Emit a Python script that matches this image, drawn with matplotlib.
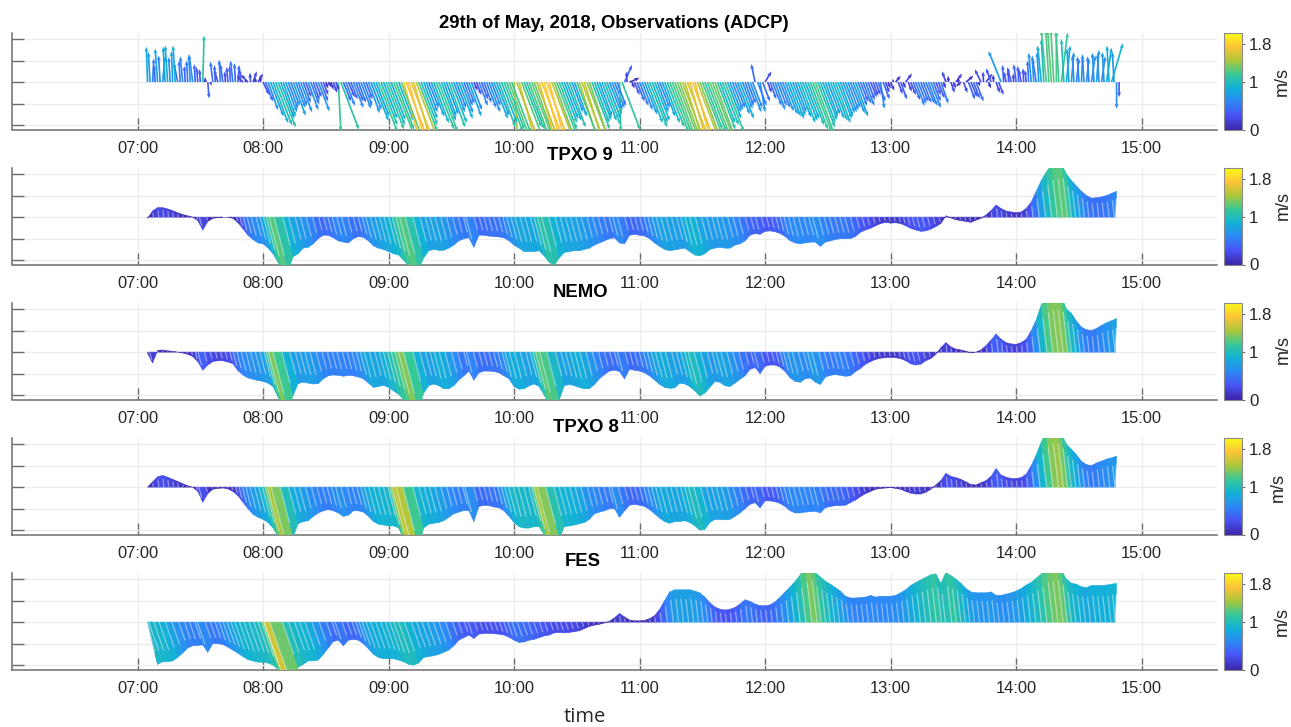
import numpy as np
import matplotlib
matplotlib.use("Agg")
import matplotlib.pyplot as plt
from matplotlib.collections import LineCollection, PolyCollection
from matplotlib.colors import LinearSegmentedColormap, Normalize
from matplotlib.cm import ScalarMappable

plt.rcParams['font.family'] = ['Liberation Sans', 'DejaVu Sans']

# Velocities in hundredths of m/s; ADCP leans in hundredths of an hour
adcp_v = [
 82,55,78,60,85,72,45,60,50,65,35,108,-38,48,30,42,35,50,40,15,18,25,20,
 -30,-65,-95,-105,-80,-62,-78,-55,-48,-65,-42,-68,-30,-12,-25,-115,-45,-35,-60,-48,-55,-72,-90,-115,-85,
 -100,-120,-90,-170,-175,-160,-115,-85,-60,-95,-115,-80,-105,-70,-85,-55,-80,-20,-55,-48,-70,-85,-105,-115,-125,
 -140,-160,-105,-120,-130,-170,-178,-172,-130,-110,-85,-105,-80,-145,-150,-130,-95,-80,-100,-75,-60,-115,40,10,-30,
 -55,-75,-105,-90,-60,-95,-115,-125,-135,-150,-165,-170,-135,-110,-125,-130,-95,-115,-70,-60,-85,-55,-70,42,-70,
 25,-40,-65,-60,-75,-85,-70,-95,-85,-110,-120,-95,-80,-85,-95,-80,-70,-60,-80,-45,-55,-35,-30,-62,-25,
 -20,15,-40,20,-30,-55,-45,-50,-60,-30,-50,25,-25,20,-10,15,-35,-45,30,20,32,-25,72,25,35,
 42,30,28,68,55,85,120,125,120,115,85,70,55,65,55,62,75,60,80,90,-62]
adcp_u = [
 -1,1,-2,2,-2,-1,-3,-2,-1,-3,-1,1,1,-2,-3,-2,-1,-2,1,-5,-6,3,4,
 5,8,12,14,10,8,10,7,6,8,5,9,4,3,3,2,6,5,8,6,7,9,12,15,11,
 13,16,12,16,17,16,15,11,8,12,15,10,13,9,11,7,10,3,7,6,9,11,13,15,16,
 3,15,14,15,16,16,17,16,16,14,11,13,10,16,16,15,12,10,13,10,8,1,6,8,4,
 7,10,14,12,8,12,15,16,17,16,16,16,17,14,16,16,12,15,9,8,11,7,9,-3,4,
 5,5,8,8,10,11,9,12,11,14,15,12,10,11,12,10,9,8,10,6,7,5,4,3,3,
 3,4,5,5,4,7,6,7,8,4,6,-3,3,5,-4,6,5,6,-5,5,-4,3,-10,-2,-3,
 -2,-2,-1,-2,-3,-3,-4,-3,0,5,3,2,2,1,2,3,2,3,4,9,0]
# ADCP ensembles between the ones above
adcp_mid_v = [
 70,40,62,82,58,85,50,38,62,42,30,12,-8,40,52,25,38,44,30,8,22,12,15,
 -45,-80,-100,-85,-70,-55,-60,-70,-35,-52,-35,-45,-15,-18,-20,-110,-55,-40,-45,-62,-40,-65,-80,-100,-110,
 -88,-110,-130,-172,-165,-150,-100,-70,-80,-110,-90,-75,-95,-60,-72,-50,-65,-30,-40,-60,-55,-78,-95,-110,-118,
 -150,-125,-110,-125,-150,-175,-176,-150,-118,-95,-90,-70,-120,-150,-140,-110,-88,-90,-85,-65,-55,-112,25,-15,-45,
 -65,-95,-95,-70,-80,-105,-118,-130,-145,-160,-168,-150,-120,-115,-128,-110,-100,-85,-65,-75,-62,-50,-60,-55,-45,
 -25,-55,-55,-68,-80,-78,-82,-90,-100,-115,-105,-88,-75,-90,-85,-72,-65,-72,-55,-50,-42,-32,-45,-40,-15,
 8,-28,-15,-22,-42,-50,-48,-55,-45,-38,-15,15,-15,12,-25,-40,-38,-10,25,-15,18,-30,40,28,20,
 38,32,50,62,70,100,122,122,118,100,78,62,60,58,60,68,66,70,85,70,-35]

tpxo9_v = [
 -3,14,22,22,19,15,10,6,3,0,-8,-30,-10,-3,-1,0,0,-3,-13,-27,-42,-52,-60,
 -62,-72,-85,-105,-125,-125,-92,-85,-72,-70,-62,-50,-42,-42,-48,-55,-58,-60,-50,-45,-47,-55,-67,-72,-75,
 -80,-85,-88,-100,-113,-125,-120,-95,-78,-75,-77,-77,-72,-65,-55,-50,-48,-70,-42,-42,-44,-45,-46,-48,-55,
 -65,-72,-80,-80,-80,-78,-90,-105,-112,-95,-82,-80,-78,-78,-75,-72,-65,-60,-55,-50,-48,-60,-62,-42,-40,
 -42,-44,-50,-60,-68,-75,-78,-76,-74,-72,-80,-88,-90,-85,-75,-72,-70,-72,-72,-65,-62,-55,-42,-38,-40,
 -33,-32,-34,-38,-45,-55,-60,-62,-60,-58,-58,-68,-58,-55,-52,-50,-50,-50,-45,-35,-30,-26,-20,-15,-12,
 -14,-13,-15,-20,-26,-30,-33,-32,-28,-22,-15,3,-2,-6,-8,-10,-12,-7,-3,5,15,28,20,14,12,
 10,12,20,35,60,85,105,120,125,125,100,85,72,60,50,44,45,47,50,55,60]
nemo_v = [
 -3,-25,4,5,3,2,0,-2,-5,-10,-22,-42,-30,-22,-20,-20,-23,-27,-43,-53,-60,-63,-66,
 -68,-72,-80,-105,-130,-135,-100,-73,-70,-72,-74,-73,-62,-55,-53,-54,-56,-54,-55,-58,-62,-72,-82,-80,-77,
 -82,-90,-98,-110,-120,-135,-135,-95,-78,-74,-78,-85,-85,-78,-65,-55,-44,-65,-48,-44,-44,-45,-48,-55,-62,
 -80,-86,-85,-78,-74,-80,-100,-120,-130,-110,-78,-75,-78,-82,-85,-85,-75,-62,-52,-44,-42,-45,-62,-40,-42,
 -44,-48,-55,-65,-75,-82,-84,-83,-72,-74,-80,-90,-102,-95,-82,-68,-70,-78,-80,-72,-63,-55,-40,-36,-50,
 -33,-30,-30,-35,-45,-60,-68,-70,-62,-60,-70,-75,-58,-54,-52,-54,-56,-55,-45,-38,-28,-22,-17,-14,-13,
 -12,-13,-15,-20,-27,-30,-28,-20,-15,-5,10,22,12,7,5,2,-2,0,5,15,28,42,30,22,19,
 18,22,30,50,75,110,130,135,135,130,100,90,72,58,52,50,55,62,68,73,78]
tpxo8_v = [
 0,12,24,27,23,18,13,8,3,0,-10,-35,-15,-5,-3,-2,-4,-10,-20,-35,-50,-63,-70,
 -75,-82,-95,-115,-140,-150,-115,-85,-80,-78,-68,-60,-55,-52,-55,-60,-68,-65,-55,-55,-58,-68,-80,-86,-88,
 -90,-90,-95,-120,-145,-155,-140,-95,-86,-84,-82,-78,-70,-62,-58,-54,-55,-80,-45,-42,-43,-46,-48,-55,-68,
 -82,-92,-95,-95,-92,-92,-110,-135,-150,-120,-92,-90,-88,-85,-82,-75,-62,-58,-55,-50,-50,-70,-55,-42,-40,
 -42,-45,-52,-62,-72,-80,-84,-80,-80,-78,-82,-90,-100,-98,-82,-75,-75,-76,-75,-68,-60,-50,-40,-36,-48,
 -32,-32,-34,-38,-45,-55,-60,-60,-58,-57,-56,-60,-48,-45,-43,-43,-42,-36,-30,-22,-15,-10,-5,-3,-2,
 -1,-3,-5,-10,-14,-16,-16,-12,-5,5,15,32,25,22,18,12,6,5,10,15,25,43,28,23,20,
 20,22,30,50,75,105,130,140,140,125,100,88,75,60,52,50,56,60,65,68,72]
fes_v = [
 0,0,-98,-92,-92,-90,-82,-72,-60,-55,-54,-53,-70,-50,-50,-52,-58,-65,-72,-80,-87,-90,-93,
 -93,-95,-100,-110,-130,-160,-155,-105,-98,-90,-90,-88,-75,-60,-45,-42,-55,-42,-40,-42,-50,-62,-75,-82,-85,
 -85,-85,-88,-92,-98,-100,-95,-82,-80,-78,-75,-70,-65,-55,-42,-36,-30,-38,-28,-26,-26,-27,-28,-30,-35,
 -42,-47,-46,-42,-40,-36,-32,-30,-25,-24,-25,-24,-22,-20,-15,-10,-7,-5,-2,2,10,20,12,5,3,
 3,4,8,15,30,50,70,75,75,75,75,72,68,58,45,35,30,28,30,34,42,52,48,42,38,
 38,40,47,58,70,82,95,110,130,135,115,105,95,88,80,72,60,56,56,57,58,62,58,60,60,
 60,62,68,75,85,92,98,104,110,112,90,115,108,100,90,78,70,68,68,68,70,62,62,65,68,
 72,78,86,92,102,112,130,130,135,120,100,90,88,82,80,85,85,85,86,88,90]

titles = ['29th of May, 2018, Observations (ADCP)', 'TPXO 9', 'NEMO', 'TPXO 8', 'FES']
title_x = [614, 580, 581, 586, 583]
title_y = [23, 156, 293, 428, 561]
unit_y = [82, 206, 350, 487, 622]
unit_x = [1282, 1283, 1283, 1278, 1282]
hour_ticks = [7, 8, 9, 10, 11, 12, 13, 14, 15]
hour_labels = ['07:00', '08:00', '09:00', '10:00', '11:00', '12:00', '13:00', '14:00', '15:00']
cbar_ticks = [0, 1, 1.8]
cbar_labels = ['0', '1', '1.8']

W, H = 1291, 727
parula = LinearSegmentedColormap.from_list('parula', [
    (0.2422, 0.1504, 0.6603), (0.2810, 0.3228, 0.9579), (0.1786, 0.5289, 0.9682),
    (0.0689, 0.6948, 0.8394), (0.2161, 0.7843, 0.5923), (0.6720, 0.7793, 0.2227),
    (0.9970, 0.7659, 0.2199), (0.9769, 0.9839, 0.0805)], N=256)
norm = Normalize(0, 2.03)

fig = plt.figure(figsize=(W / 100, H / 100), dpi=100)
TXT = '#262626'
GREY = '#6e6e6e'


def rect(x0, y0, x1, y1):
    return [x0 / W, 1 - y1 / H, (x1 - x0) / W, (y1 - y0) / H]


def draw_model(ax, vals, lean_down, lean_up=0.04):
    tip = 7.08 + 0.04 * np.arange(len(vals))
    v = np.array(vals) / 100
    base = np.where(v < 0, tip + lean_down * v, tip + lean_up * v)
    base = np.clip(base, 7.08, 14.79)
    quads = [[(base[k], 0), (tip[k], v[k]), (tip[k + 1], v[k + 1]), (base[k + 1], 0)]
             for k in range(len(v) - 1)]
    speed = (np.abs(v[:-1]) + np.abs(v[1:])) / 2
    pc = PolyCollection(quads, array=speed, cmap=parula, norm=norm, edgecolors='face',
                        linewidths=0.4, zorder=3)
    ax.add_collection(pc)
    # pale hatch of the individual sticks, stopping short of the tips
    segs = np.stack([np.c_[base, 0 * v], np.c_[base + 0.72 * (tip - base), 0.72 * v]], axis=1)
    ax.add_collection(LineCollection(segs, colors='white', linewidths=1.0, alpha=0.38, zorder=4))


def draw_adcp(ax):
    v = np.array(adcp_v) / 100
    u = np.array(adcp_u) / 100
    t = 7.08 + 0.04 * np.arange(len(v))
    vm = np.array(adcp_mid_v) / 100
    um = np.where(vm < 0, -0.13 * vm, -0.02 * vm)
    um[-1] = 0
    tm = 7.10 + 0.04 * np.arange(len(vm))
    kw = dict(cmap=parula, norm=norm, angles='xy', scale_units='xy', scale=1, units='dots',
              width=1.7, headwidth=2.3, headlength=3, headaxislength=2.6, minlength=0.2, zorder=3)
    ax.quiver(t, 0 * t, u, v, np.abs(v), **kw)
    ax.quiver(tm, 0 * tm, um, vm, np.abs(vm), **kw)


panels = [None, tpxo9_v, nemo_v, tpxo8_v, fes_v]
leans = [None, 0.09, 0.09, 0.09, 0.12]

for i, data in enumerate(panels):
    top = 33 + 135 * i
    ax = fig.add_axes(rect(12, top, 1217, top + 96.5))
    ax.set_xlim(6.0, 15.6)
    ax.set_ylim(-1.1, 1.14)
    if data is None:
        draw_adcp(ax)
    else:
        draw_model(ax, data, leans[i])
    ax.set_xticks(hour_ticks)
    ax.set_xticklabels(hour_labels)
    ax.set_yticks([-1, -0.5, 0, 0.5, 1])
    ax.set_yticklabels([])
    ax.grid(True, color='#ececec', lw=1)
    ax.set_axisbelow(True)
    ax.tick_params(axis='both', direction='in', length=8.5, width=1, color=GREY,
                   labelcolor=TXT, labelsize=11.9, pad=8)
    for s in ('top', 'right'):
        ax.spines[s].set_visible(False)
    for s in ('left', 'bottom'):
        ax.spines[s].set_color(GREY)
        ax.spines[s].set_linewidth(1.1)

    cax = fig.add_axes(rect(1224, top, 1241.5, top + 96.5))
    cb = fig.colorbar(ScalarMappable(norm=norm, cmap=parula), cax=cax)
    cb.set_ticks(cbar_ticks)
    cb.set_ticklabels(cbar_labels)
    cb.ax.tick_params(length=2.5, width=0.8, color=GREY, labelcolor=TXT, labelsize=12.2, pad=3)
    cb.outline.set_edgecolor('#8a8a8a')
    cb.outline.set_linewidth(0.8)

    fig.text(title_x[i] / W, 1 - title_y[i] / H, titles[i], ha='center', va='center',
             fontsize=13.3, fontweight='bold', color='black')
    fig.text(unit_x[i] / W, 1 - unit_y[i] / H, 'm/s', rotation=90, ha='center', va='center',
             fontsize=13, color=TXT)

fig.text(585 / W, 1 - 717 / H, 'time', ha='center', va='center', fontsize=14.5,
         family='Open Sans', color=TXT)
fig.savefig('out.png', dpi=100)
